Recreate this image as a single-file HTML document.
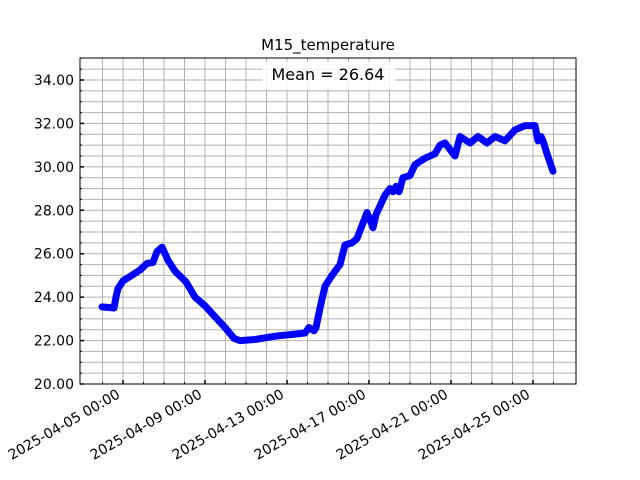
<!DOCTYPE html>
<html><head><meta charset="utf-8"><style>
html,body{margin:0;padding:0;background:#fff;}
svg{display:block;font-family:"DejaVu Sans","Liberation Sans",sans-serif;}
</style></head><body>
<svg id="s" width="640" height="480" viewBox="0 0 640 480" xmlns="http://www.w3.org/2000/svg">
<rect width="640" height="480" fill="#fff"/>
<g id="grid" stroke="#b0b0b0" stroke-width="1"></g>
<g id="ticks" stroke="#000" stroke-width="1"></g>
<polyline id="line" fill="none" stroke="#0000ff" stroke-width="7" stroke-linejoin="round" stroke-linecap="round"/>
<rect x="80" y="58" width="496" height="326" fill="none" stroke="#000" stroke-width="1"/>
<rect x="262" y="62" width="133" height="28" fill="#fff" opacity="0.85"/>
<text x="328" y="80" font-size="16" text-anchor="middle">Mean = 26.64</text>
<text x="328" y="50" font-size="15" text-anchor="middle">M15_temperature</text>
<g id="labels" font-size="14"></g>
</svg>
<script>
var ns="http://www.w3.org/2000/svg";
function Y(v){return 384-(v-20)*21.714;}
var g=document.getElementById('grid'),t=document.getElementById('ticks'),L=document.getElementById('labels');
function el(p,n,a,txt){var e=document.createElementNS(ns,n);for(var k in a)e.setAttribute(k,a[k]);if(txt)e.textContent=txt;p.appendChild(e);return e;}
for(var v=20.5;v<35;v+=0.5){var y=Y(v);el(g,'line',{x1:80,x2:576,y1:y,y2:y});}
for(var d=0;d<23;d++){var x=102.5+d*20.5;el(g,'line',{x1:x,x2:x,y1:58,y2:384});}
for(var v=20;v<=35;v+=0.5){var y=Y(v);var maj=(v%2==0);el(t,'line',{x1:80,x2:80+(maj?4:2),y1:y,y2:y,'stroke-width':maj?1.5:1});
 if(maj&&v<35)el(L,'text',{x:74,y:y+5,'text-anchor':'end'},v.toFixed(2));}
var dates=['2025-04-05 00:00','2025-04-09 00:00','2025-04-13 00:00','2025-04-17 00:00','2025-04-21 00:00','2025-04-25 00:00'];
for(var i=0;i<6;i++){var x=123+i*82;el(t,'line',{x1:x,x2:x,y1:384,y2:380,'stroke-width':1.5});
 el(L,'text',{x:x-2,y:397,'text-anchor':'end',transform:'rotate(-30 '+(x-2)+' 397)'},dates[i]);}
for(var d=0;d<23;d++){var x=102.5+d*20.5;el(t,'line',{x1:x,x2:x,y1:384,y2:382});}
var P=[[102,23.55],[114,23.5],[116,24.0],[118,24.4],[123,24.75],[130,24.95],[140,25.25],[147,25.55],[153,25.6],[157,26.1],[162,26.3],[168,25.7],[175,25.2],[186,24.7],[195,24.0],[205,23.6],[215,23.1],[225,22.6],[234,22.1],[240,22.0],[255,22.05],[275,22.2],[295,22.3],[305,22.35],[309,22.6],[314,22.45],[316,22.6],[320,23.5],[325,24.5],[332,25.0],[340,25.5],[345,26.4],[352,26.5],[357,26.7],[362,27.3],[367,27.9],[373,27.2],[376,27.8],[380,28.2],[385,28.7],[390,29.0],[393,28.85],[396,29.1],[399,28.85],[403,29.5],[410,29.6],[415,30.1],[425,30.4],[435,30.6],[440,31.0],[445,31.1],[450,30.8],[455,30.5],[460,31.4],[470,31.1],[478,31.4],[487,31.1],[495,31.4],[505,31.2],[515,31.7],[525,31.9],[535,31.9],[538,31.2],[541,31.4],[543,31.2],[547,30.6],[550,30.2],[553,29.8]];
document.getElementById('line').setAttribute('points',P.map(function(p){return p[0]+','+Y(p[1]).toFixed(1);}).join(' '));
</script>
</body></html>
